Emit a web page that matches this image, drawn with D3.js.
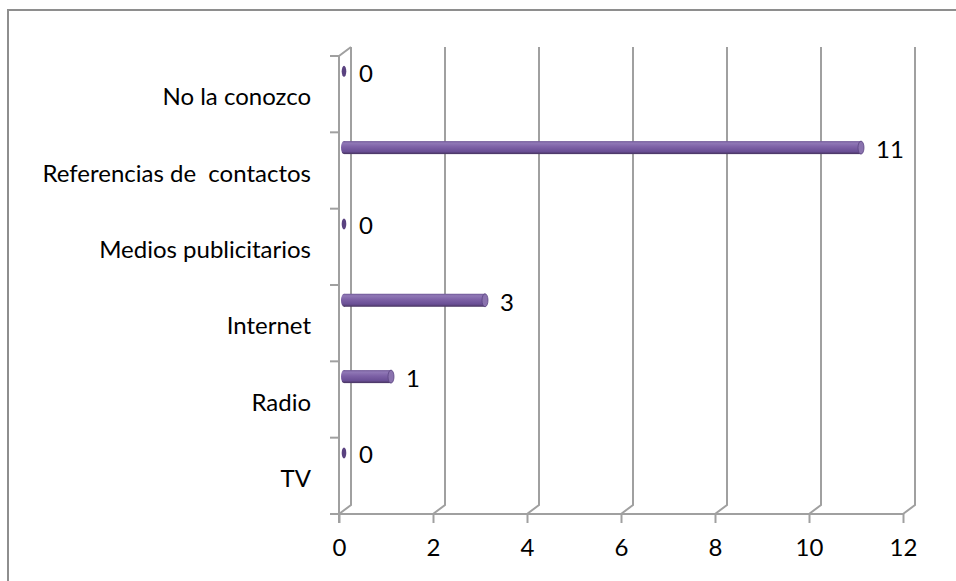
<!DOCTYPE html>
<html>
<head>
<meta charset="utf-8">
<script src="https://cdn.jsdelivr.net/npm/d3@7/dist/d3.min.js"></script>
<style>
  html, body { margin: 0; padding: 0; background: #fff; }
  svg { display: block; }
  text { font-family: Lato, "Open Sans", sans-serif; fill: #000; }
</style>
</head>
<body>
<script>
// Categories listed bottom to top, as the axis reads them
const categories = ["TV", "Radio", "Internet", "Medios publicitarios", "Referencias de  contactos", "No la conozco"];
const values = [0, 1, 3, 0, 11, 0];
const xTicks = [0, 2, 4, 6, 8, 10, 12];

const W = 956, H = 581;
const FS = 24;
const svg = d3.select("body").append("svg").attr("width", W).attr("height", H);

// chart frame
svg.append("rect")
  .attr("x", 8).attr("y", 10).attr("width", 1000).attr("height", 700)
  .attr("fill", "none").attr("stroke", "#8e8e8e").attr("stroke-width", 2);

const floorY = 514, topY = 47;
const depthX = 12, depthY = -9;           // offset of the back wall
const x = d3.scaleLinear().domain([0, 12]).range([339, 903]);
const y = d3.scaleBand().domain(categories.slice().reverse()).range([56, floorY]).paddingInner(0);

const gridColor = "#a0a0a0";
const g = svg.append("g");

// back-wall gridlines with their slanted floor segment
g.selectAll("path.grid").data(xTicks).join("path")
  .attr("class", "grid")
  .attr("d", v => `M${x(v)},${floorY} L${x(v) + depthX},${floorY + depthY} L${x(v) + depthX},${topY}`)
  .attr("fill", "none").attr("stroke", gridColor).attr("stroke-width", 2);

// front value axis along the floor
const xAxis = d3.axisBottom(x).tickValues(xTicks).tickSize(9).tickPadding(16).tickSizeOuter(0);
const xg = g.append("g").attr("transform", `translate(0,${floorY})`).call(xAxis);
xg.select(".domain").remove();
xg.selectAll(".tick line").attr("stroke", gridColor).attr("stroke-width", 2);
xg.selectAll(".tick text").attr("font-size", FS).attr("fill", "#000").attr("font-family", "Lato, sans-serif");
g.append("line")
  .attr("x1", 330).attr("x2", x(12)).attr("y1", floorY).attr("y2", floorY)
  .attr("stroke", gridColor).attr("stroke-width", 2);

// front category axis
g.append("path")
  .attr("d", `M${x(0) + depthX},${y.range()[0] + depthY} L${x(0)},${y.range()[0]} L${x(0)},${floorY + 9}`)
  .attr("fill", "none").attr("stroke", gridColor).attr("stroke-width", 2);
const bounds = categories.map(c => y(c)).concat([floorY]);
g.selectAll("line.ctick").data(bounds).join("line")
  .attr("class", "ctick")
  .attr("x1", 330).attr("x2", x(0)).attr("y1", d => d).attr("y2", d => d)
  .attr("stroke", gridColor).attr("stroke-width", 2);

// category labels
g.selectAll("text.cat").data(categories).join("text")
  .attr("class", "cat")
  .attr("x", 311)
  .attr("y", c => y(c) + y.bandwidth() / 2 + 11)
  .attr("text-anchor", "end")
  .attr("font-size", FS)
  .style("white-space", "pre")
  .text(c => c);

// cylinder shading
const defs = svg.append("defs");
const grad = defs.append("linearGradient").attr("id", "cyl").attr("x1", 0).attr("x2", 0).attr("y1", 0).attr("y2", 1);
[[0, "#6f5796"], [0.15, "#9078b6"], [0.45, "#7d61a6"], [0.8, "#6a4f95"], [1, "#47345f"]]
  .forEach(([o, c]) => grad.append("stop").attr("offset", o).attr("stop-color", c));

const barH = 13, midX = depthX / 2 - 1;
const rows = categories.map((c, i) => ({ c, v: values[i] }));
const barCY = d => y(d.c) + y.bandwidth() * 0.2;

const bars = g.selectAll("g.bar").data(rows).join("g").attr("class", "bar");
bars.filter(d => d.v > 0).append("rect")
  .attr("x", x(0) + midX)
  .attr("y", d => barCY(d) - barH / 2)
  .attr("width", d => x(d.v) - x(0))
  .attr("height", barH)
  .attr("fill", "url(#cyl)");
bars.filter(d => d.v > 0).append("ellipse")
  .attr("cx", x(0) + midX).attr("cy", barCY)
  .attr("rx", 3).attr("ry", barH / 2)
  .attr("fill", "url(#cyl)");
bars.append("ellipse")
  .attr("cx", d => x(d.v) + midX).attr("cy", barCY)
  .attr("rx", d => d.v > 0 ? 3 : 2.3).attr("ry", d => d.v > 0 ? barH / 2 : 5.5)
  .attr("fill", d => d.v > 0 ? "#8a72ae" : "#5a4280")
  .attr("stroke", d => d.v > 0 ? "#5a4482" : "none").attr("stroke-width", 0.8);

// value labels
bars.append("text")
  .attr("x", d => x(d.v) + midX + 15)
  .attr("y", d => barCY(d) + 10.5)
  .attr("font-size", FS)
  .text(d => d.v);
</script>
</body>
</html>
